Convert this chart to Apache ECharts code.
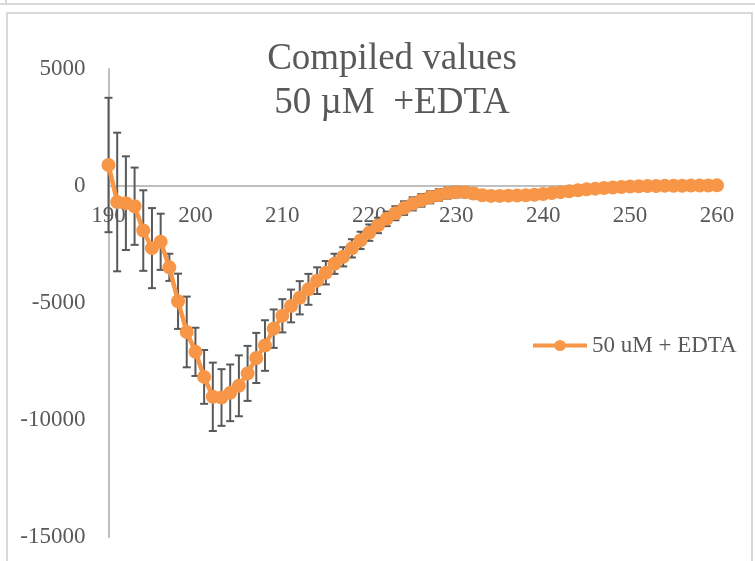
<!DOCTYPE html>
<html>
<head>
<meta charset="utf-8">
<script src="https://cdn.jsdelivr.net/npm/echarts@6/dist/echarts.min.js"></script>
<style>
  html, body { margin: 0; padding: 0; background: #ffffff; }
  #chart { width: 755px; height: 561px; }
</style>
</head>
<body>
<div id="chart"></div>
<script>
// Wavelength (nm), one reading per nm
const wavelengths = [
  190,191,192,193,194,195,196,197,198,199,
  200,201,202,203,204,205,206,207,208,209,
  210,211,212,213,214,215,216,217,218,219,
  220,221,222,223,224,225,226,227,228,229,
  230,231,232,233,234,235,236,237,238,239,
  240,241,242,243,244,245,246,247,248,249,
  250,251,252,253,254,255,256,257,258,259,
  260
];

// Mean signal for 50 uM + EDTA
const meanValues = [
  900,-680,-730,-860,-1900,-2650,-2380,-3470,-4920,-6230,
  -7080,-8150,-9000,-9030,-8830,-8530,-8000,-7340,-6810,-6090,
  -5540,-5120,-4770,-4410,-4040,-3700,-3320,-3020,-2660,-2320,
  -1990,-1680,-1400,-1160,-940,-760,-610,-480,-380,-300,
  -260,-260,-320,-390,-420,-420,-410,-400,-390,-370,
  -340,-300,-260,-220,-180,-140,-110,-80,-60,-40,
  -20,-10,0,5,10,15,15,20,20,25,
  30
];

// Standard deviation for each reading
const errorValues = [
  2870,2960,2000,1650,1720,1710,1200,580,1180,1510,
  1030,1150,1460,1210,1210,1300,1175,1070,1080,820,
  710,700,710,660,570,500,430,410,390,370,
  350,330,310,300,290,280,270,260,250,240,
  230,220,210,200,200,190,190,180,180,170,
  170,160,160,150,150,140,140,130,130,120,
  120,110,110,110,100,100,100,100,100,100,
  100
];

const seriesName = '50 uM + EDTA';
const titleText = 'Compiled values\n50 \u00b5M  +EDTA';
const yTicks = { min: -15000, max: 5000, step: 5000 };
const xTicks = { min: 190, max: 260, step: 10 };

const FONT = 'Liberation Serif';
const TEXT_GREY = '#595959';
const ORANGE = '#F79646';

// plot area geometry
const GRID = { left: 108.5, right: 38, top: 69, bottom: 23.7 };
const plotHeight = 561 - GRID.top - GRID.bottom;
// lift the wavelength axis from the bottom of the plot up to the zero line
const zeroOffset = -plotHeight * (0 - yTicks.min) / (yTicks.max - yTicks.min);

const lineData = wavelengths.map((w, i) => [w, meanValues[i]]);
const barData = wavelengths.map((w, i) => [w, meanValues[i] - errorValues[i], meanValues[i] + errorValues[i]]);

const chart = echarts.init(document.getElementById('chart'), null, { renderer: 'canvas' });

chart.setOption({
  backgroundColor: '#ffffff',
  animation: false,
  graphic: [
    { type: 'line', shape: { x1: 0, y1: 4, x2: 755, y2: 4 }, style: { stroke: '#d9d9d9', lineWidth: 2 }, silent: true },
    { type: 'line', shape: { x1: 6, y1: 0, x2: 6, y2: 4 }, style: { stroke: '#d9d9d9', lineWidth: 2 }, silent: true },
    { type: 'rect', shape: { x: 7, y: 13, width: 745, height: 600 }, style: { fill: 'none', stroke: '#d9d9d9', lineWidth: 2 }, silent: true }
  ],
  title: {
    text: titleText,
    left: 387,
    top: 32,
    textAlign: 'center',
    textStyle: { fontFamily: FONT, fontSize: 37, fontWeight: 'normal', color: TEXT_GREY, lineHeight: 44 }
  },
  legend: {
    data: [seriesName],
    left: 526,
    top: 329,
    itemWidth: 54,
    itemHeight: 14,
    itemGap: 5,
    lineStyle: { width: 4 },
    textStyle: { fontFamily: FONT, fontSize: 23, color: TEXT_GREY }
  },
  grid: Object.assign({ containLabel: false, outerBoundsMode: 'none' }, GRID),
  xAxis: {
    type: 'value',
    min: xTicks.min,
    max: xTicks.max,
    interval: xTicks.step,
    position: 'bottom',
    offset: zeroOffset,
    axisLine: { onZero: false, lineStyle: { color: '#bfbfbf', width: 2 } },
    axisTick: { show: false },
    splitLine: { show: false },
    axisLabel: { fontFamily: FONT, fontSize: 23, color: TEXT_GREY, margin: 18, showMinLabel: true, showMaxLabel: true }
  },
  yAxis: {
    type: 'value',
    min: yTicks.min,
    max: yTicks.max,
    interval: yTicks.step,
    axisLine: { show: true, onZero: false, lineStyle: { color: '#bfbfbf', width: 2 } },
    axisTick: { show: false },
    splitLine: { show: false },
    axisLabel: { fontFamily: FONT, fontSize: 23, color: TEXT_GREY, margin: 23, formatter: v => String(v) }
  },
  series: [
    {
      name: 'error',
      type: 'custom',
      z: 1,
      silent: true,
      data: barData,
      renderItem: function (params, api) {
        const x = api.value(0);
        const top = api.coord([x, api.value(2)]);
        const bot = api.coord([x, api.value(1)]);
        const half = 4;
        const st = { stroke: '#595959', lineWidth: 2 };
        return {
          type: 'group',
          children: [
            { type: 'line', shape: { x1: top[0], y1: top[1], x2: bot[0], y2: bot[1] }, style: st },
            { type: 'line', shape: { x1: top[0] - half, y1: top[1], x2: top[0] + half, y2: top[1] }, style: st },
            { type: 'line', shape: { x1: bot[0] - half, y1: bot[1], x2: bot[0] + half, y2: bot[1] }, style: st }
          ]
        };
      }
    },
    {
      name: seriesName,
      type: 'line',
      z: 3,
      data: lineData,
      symbol: 'circle',
      symbolSize: 14,
      showAllSymbol: true,
      lineStyle: { color: ORANGE, width: 4.5 },
      itemStyle: { color: ORANGE, borderWidth: 0 }
    }
  ]
});
</script>
</body>
</html>
